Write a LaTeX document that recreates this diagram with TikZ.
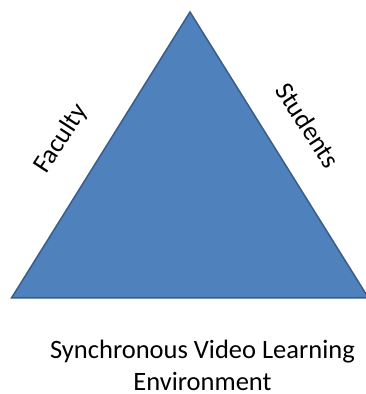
\documentclass[tikz,border=0pt]{standalone}
\usepackage{fontspec}
\setmainfont{Carlito}
\definecolor{trifill}{HTML}{4F81BD}
\definecolor{triedge}{HTML}{385D8A}
\tikzset{
  lbl/.style={font=\fontsize{26.5}{32}\selectfont, inner sep=0pt, text=black},
}
\begin{document}
\begin{tikzpicture}[x=1pt,y=1pt]
\useasboundingbox (0,0) rectangle (366,394);
\begin{scope}
\clip (0,0) rectangle (366,394);
\coordinate (apex) at (190,382);
\coordinate (bl) at (11.5,96);
\coordinate (br) at (368.5,96);
\draw[fill=trifill, draw=triedge, line width=1.5pt, line join=miter] (apex) -- (bl) -- (br) -- cycle;
\end{scope}
\node[lbl, rotate=57] (fac) at (61,255) {Faculty};
\node[lbl, rotate=-57] (stu) at (308,269) {Students};
\node[lbl, align=center, anchor=base] (env) at (202.5,4) {Synchronous Video Learning\\Environment};
\end{tikzpicture}
\end{document}
